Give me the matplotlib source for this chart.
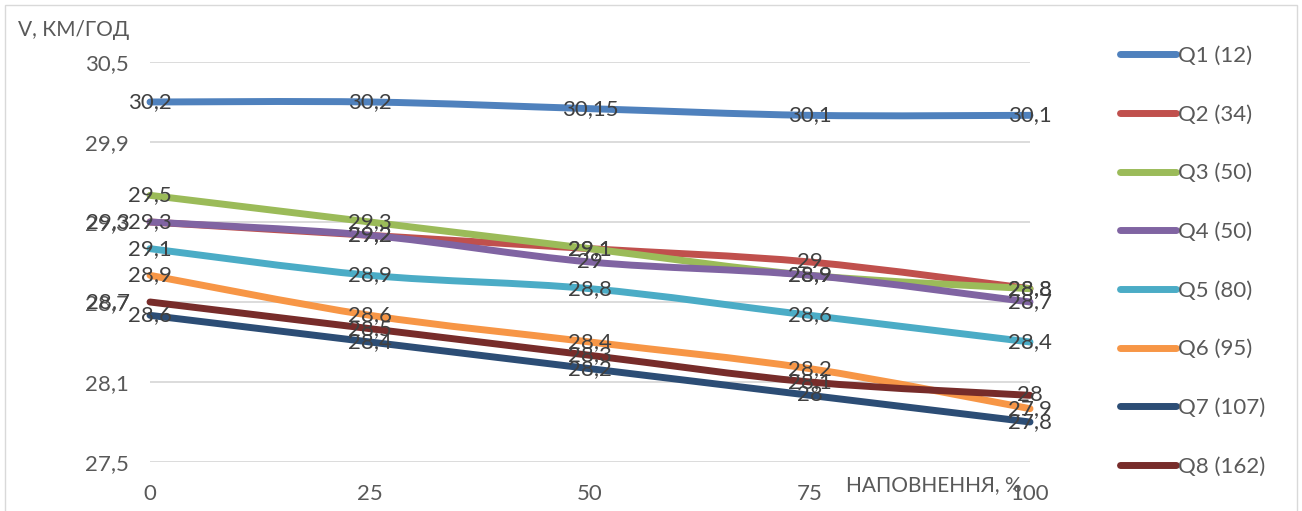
import matplotlib
matplotlib.use("Agg")
import matplotlib.pyplot as plt
from matplotlib.path import Path
from matplotlib.patches import PathPatch, Rectangle

# fill level, %
fill = [0, 25, 50, 75, 100]

series_names = ["Q1 (12)", "Q2 (34)", "Q3 (50)", "Q4 (50)",
                "Q5 (80)", "Q6 (95)", "Q7 (107)", "Q8 (162)"]
q1 = [30.2, 30.2, 30.15, 30.1, 30.1]
q2 = [29.3, 29.2, 29.1, 29.0, 28.8]
q3 = [29.5, 29.3, 29.1, 28.9, 28.8]
q4 = [29.3, 29.2, 29.0, 28.9, 28.7]
q5 = [29.1, 28.9, 28.8, 28.6, 28.4]
q6 = [28.9, 28.6, 28.4, 28.2, 27.9]
q7 = [28.6, 28.4, 28.2, 28.0, 27.8]
q8 = [28.7, 28.5, 28.3, 28.1, 28.0]
all_series = [q1, q2, q3, q4, q5, q6, q7, q8]

y_ticks = [27.5, 28.1, 28.7, 29.3, 29.9, 30.5]

colors = ["#4F81BD", "#C0504D", "#9BBB59", "#8064A2",
          "#4BACC6", "#F79646", "#2C4D75", "#772C2A"]

# label shifts (px) for labels that Excel pushed aside
label_shift = {(1, 0): -42, (7, 0): -42}

text_color = "#595959"
label_color = "#404040"
plt.rcParams["font.family"] = ["Lato", "DejaVu Sans"]
FS = 16


def smooth_path(xs, ys):
    # Excel-like smoothed line: cubic bezier through the points
    pts = list(zip(xs, ys))
    n = len(pts)
    verts = [pts[0]]
    codes = [Path.MOVETO]
    for i in range(n - 1):
        p0 = pts[max(i - 1, 0)]
        p1 = pts[i]
        p2 = pts[i + 1]
        p3 = pts[min(i + 2, n - 1)]
        c1 = (p1[0] + (p2[0] - p0[0]) / 6, p1[1] + (p2[1] - p0[1]) / 6)
        c2 = (p2[0] - (p3[0] - p1[0]) / 6, p2[1] - (p3[1] - p1[1]) / 6)
        verts += [c1, c2, p2]
        codes += [Path.CURVE4] * 3
    return Path(verts, codes)


fig = plt.figure(figsize=(13.02, 5.11), dpi=100)
ax = fig.add_axes([150 / 1302, 1 - 462 / 511, 880 / 1302, 400 / 511])

handles = []
for k, (vals, c, name) in enumerate(zip(all_series, colors, series_names)):
    patch = PathPatch(smooth_path(fill, vals), facecolor="none", edgecolor=c,
                      lw=5, capstyle="round", joinstyle="round",
                      clip_on=False, zorder=3 + k * 0.01)
    ax.add_patch(patch)
    h, = ax.plot([], [], color=c, lw=5, solid_capstyle="round", label=name)
    handles.append(h)

for k, vals in enumerate(all_series):
    for i, (x, v) in enumerate(zip(fill, vals)):
        dx = label_shift.get((k, i), 0)
        ax.annotate("{:g}".format(v).replace(".", ","), (x, v),
                    xytext=(dx * 0.72, 0), textcoords="offset points",
                    ha="center", va="center", fontsize=FS,
                    color=label_color, zorder=10, annotation_clip=False)

ax.set_xlim(0, 100)
ax.set_ylim(27.5, 30.5)
ax.set_xticks(fill)
ax.set_xticklabels([str(x) for x in fill])
ax.set_yticks(y_ticks)
ax.set_yticklabels(["{:g}".format(t).replace(".", ",") for t in y_ticks])
ax.tick_params(length=0, labelsize=FS, labelcolor=text_color)
ax.tick_params(axis="x", pad=16)
ax.tick_params(axis="y", pad=15)
for s in ax.spines.values():
    s.set_visible(False)
ax.grid(True, axis="y", color="#d9d9d9", lw=1.3)
ax.set_axisbelow(True)

ax.text(0.991, -0.058, "НАПОВНЕННЯ, %", transform=ax.transAxes,
        ha="right", va="center", fontsize=15, color=text_color)
fig.text(18 / 1302, 1 - 30 / 511, "V, КМ/ГОД", ha="left", va="center",
         fontsize=15, color=text_color)

fig.legend(handles=handles, loc="upper left",
           bbox_to_anchor=(1100 / 1302, 1 - 26 / 511),
           frameon=False, fontsize=FS, labelspacing=1.74,
           handlelength=2.5, handletextpad=0.12, labelcolor=text_color)

fig.patches.append(Rectangle((5 / 1302, -0.05), 1292 / 1302, 1.05 - 5 / 511,
                             transform=fig.transFigure, fill=False,
                             edgecolor="#d9d9d9", lw=1))

fig.savefig("out.png", dpi=100)
